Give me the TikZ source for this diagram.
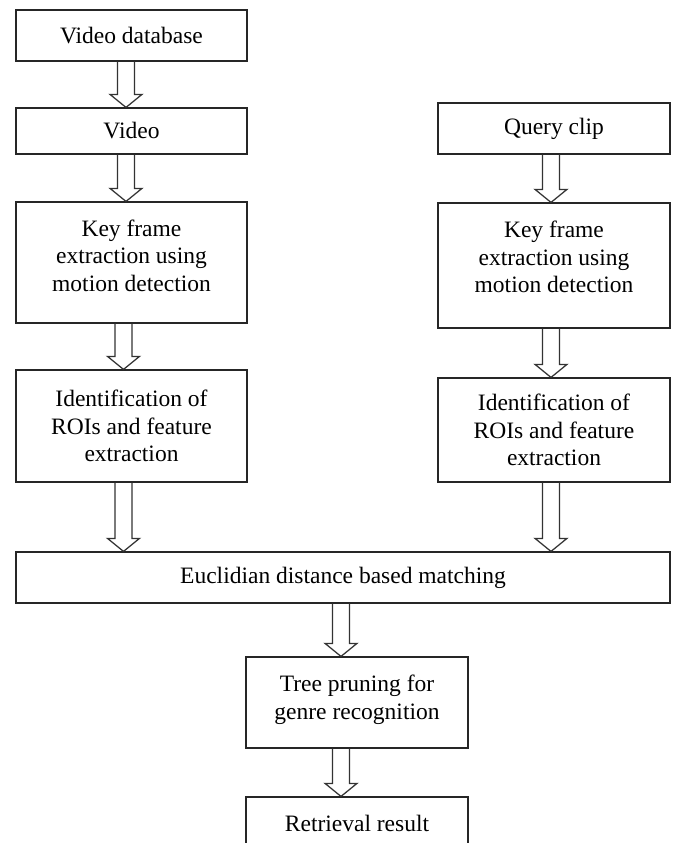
\documentclass[tikz,border=0pt]{standalone}
\usepackage{fontspec}
\setmainfont{Liberation Serif}
\usetikzlibrary{calc}

\begin{document}
\begin{tikzpicture}[x=1pt, y=-1pt,
    stage/.style={rectangle, draw=black!85, line width=1.2pt, align=center, inner sep=0pt,
      font=\fontsize{23.5}{27.5}\selectfont},
    hollow/.style={draw=black!80, line width=1.25pt, to path={
      let \p1=(\tikztostart), \p2=(\tikztotarget) in
      (\x1-8.5pt,\y1) -- (\x1-8.5pt,\y2+13pt) -- (\x1-16pt,\y2+13pt) -- (\x1,\y2)
      -- (\x1+16pt,\y2+13pt) -- (\x1+8.5pt,\y2+13pt) -- (\x1+8.5pt,\y1)}}]
    \useasboundingbox (0,0) rectangle (675,843);
    \clip (0,0) rectangle (675,843);

    % database side
    \node[stage, minimum width=231pt, minimum height=51pt] (vdb) at (131.5,35.5) {Video database};
    \node[stage, minimum width=231pt, minimum height=46pt] (video) at (131.5,131) {Video};
    \node[stage, minimum width=231pt, minimum height=121pt] (keyl) at (131.5,262.5) {Key frame\\extraction using\\motion detection\\[-13pt]\mbox{}};
    \node[stage, minimum width=231pt, minimum height=112pt] (roil) at (131.5,426) {Identification of\\ROIs and feature\\extraction};

    % query side
    \node[stage, minimum width=232pt, minimum height=51pt] (query) at (554,128.5) {Query clip};
    \node[stage, minimum width=232pt, minimum height=125pt] (keyr) at (554,265.5) {Key frame\\extraction using\\motion detection\\[-10pt]\mbox{}};
    \node[stage, minimum width=232pt, minimum height=104pt] (roir) at (554,430) {Identification of\\ROIs and feature\\extraction};

    \node[stage, minimum width=654pt, minimum height=51pt] (match) at (343,577.5) {Euclidian distance based matching};
    \node[stage, minimum width=222pt, minimum height=91pt] (prune) at (357,702.5) {Tree pruning for\\genre recognition\\[-17pt]\mbox{}};
    \node[stage, minimum width=222pt, minimum height=52pt] (result) at (357,823) {Retrieval result};

    \draw[hollow] ([xshift=-5.5pt]vdb.south) to (video.north);
    \draw[hollow] ([xshift=-5.5pt]video.south) to (keyl.north);
    \draw[hollow] ([xshift=-8pt]keyl.south) to (roil.north);
    \draw[hollow] ([xshift=-8pt]roil.south) to (match.north);
    \draw[hollow] ([xshift=-3pt]query.south) to (keyr.north);
    \draw[hollow] ([xshift=-3pt]keyr.south) to (roir.north);
    \draw[hollow] ([xshift=-3pt]roir.south) to (match.north);
    \draw[hollow] ([xshift=-16pt]prune.north |- match.south) to (prune.north);
    \draw[hollow] ([xshift=-16pt]prune.south) to (result.north);
\end{tikzpicture}
\end{document}
